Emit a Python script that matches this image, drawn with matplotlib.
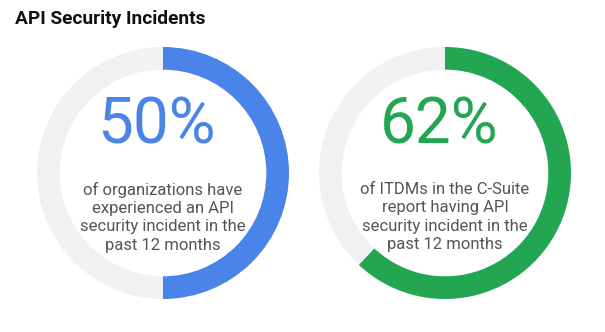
import matplotlib
matplotlib.use("Agg")
import matplotlib.pyplot as plt

plt.rcParams['font.family'] = ['Roboto', 'DejaVu Sans']

title = "API Security Incidents"
percents = [50, 62]
labels = ["50%", "62%"]
captions = [
    "of organizations have\nexperienced an API\nsecurity incident in the\npast 12 months",
    "of ITDMs in the C-Suite\nreport having API\nsecurity incident in the\npast 12 months",
]
colors = ["#4A84E8", "#22A652"]
track_color = "#F0F1F3"

W, H = 605, 332
fig = plt.figure(figsize=(W / 100, H / 100), dpi=100)
fig.patch.set_facecolor("white")

fig.text(15 / W, 1 - 19 / H, title, fontsize=13.8, fontweight="bold",
         color="#111111", ha="left", va="center")

centers = [(163, 173), (445, 173)]
R = 126
ring_w = 0.18

for (cx, cy), pct, lab, cap, col in zip(centers, percents, labels, captions, colors):
    ax = fig.add_axes([(cx - R) / W, (H - cy - R) / H, 2 * R / W, 2 * R / H])
    ax.pie([pct, 100 - pct], colors=[col, track_color], startangle=90,
           counterclock=False, radius=1.0,
           wedgeprops=dict(width=ring_w, edgecolor="none"))
    ax.set_xlim(-1, 1)
    ax.set_ylim(-1, 1)
    ax.set_aspect("equal")
    ax.axis("off")
    ax.text(-0.05, 0.238, lab, fontsize=46, color=col, ha="center",
            va="baseline")
    ax.text(0.0, -0.35, cap, fontsize=12, color="#555555", ha="center",
            va="center", linespacing=1.28)

fig.savefig("out.png", dpi=100, facecolor="white")
